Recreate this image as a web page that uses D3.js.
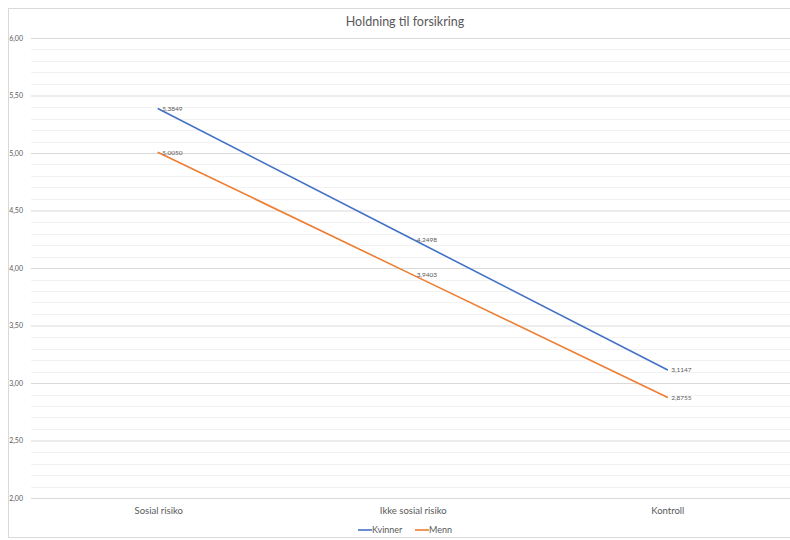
<!DOCTYPE html>
<html>
<head>
<meta charset="utf-8">
<script src="https://cdn.jsdelivr.net/npm/d3@7"></script>
<style>
  html, body { margin: 0; padding: 0; background: #fff; }
  svg { display: block; font-family: Lato, "Open Sans", sans-serif; }
</style>
</head>
<body>
<svg id="chart" width="790" height="540"></svg>
<script>
// Mean attitude toward insurance per condition, by gender
const categories = ["Sosial risiko", "Ikke sosial risiko", "Kontroll"];
const kvinner = [5.3849, 4.2498, 3.1147];
const menn = [5.0050, 3.9403, 2.8755];
const seriesNames = ["Kvinner", "Menn"];
const seriesColors = ["#4472C4", "#ED7D31"];
const yTicks = [2.0, 2.5, 3.0, 3.5, 4.0, 4.5, 5.0, 5.5, 6.0];
const title = "Holdning  til forsikring";

const series = [
  { name: seriesNames[0], color: seriesColors[0], values: kvinner },
  { name: seriesNames[1], color: seriesColors[1], values: menn }
];

const svg = d3.select("#chart");
const plot = { left: 31, right: 794.5, top: 38, bottom: 498 };

// chart frame
svg.append("rect")
  .attr("x", 8.5).attr("y", 8.5)
  .attr("width", 800).attr("height", 529)
  .attr("fill", "#fff").attr("stroke", "#d9d9d9").attr("stroke-width", 1);

const x = d3.scalePoint().domain(categories)
  .range([plot.left, plot.right]).padding(0.5);
const y = d3.scaleLinear().domain([2, 6]).range([plot.bottom, plot.top]);

const fmt = (v, d) => v.toFixed(d).replace(".", ",");

// minor gridlines every 0.1
const minor = d3.range(20, 61).map(v => v / 10).filter(v => Math.round(v * 10) % 5 !== 0);
svg.append("g").selectAll("line").data(minor).join("line")
  .attr("x1", plot.left).attr("x2", plot.right)
  .attr("y1", d => Math.round(y(d)) + 0.5).attr("y2", d => Math.round(y(d)) + 0.5)
  .attr("stroke", "#f2f2f2").attr("stroke-width", 1.2);

// major gridlines + y axis labels
const yAxis = d3.axisLeft(y).tickValues(yTicks)
  .tickSize(-(plot.right - plot.left)).tickPadding(8)
  .tickFormat(d => fmt(d, 2));
const gy = svg.append("g").attr("transform", `translate(${plot.left},0)`).call(yAxis);
gy.select(".domain").remove();
gy.selectAll(".tick line").attr("stroke", "#d9d9d9").attr("stroke-width", 1.2);
gy.selectAll(".tick text").attr("fill", "#595959").attr("font-size", 7)
  .attr("font-family", "Lato, sans-serif");

// category axis labels
const xAxis = d3.axisBottom(x).tickSize(0).tickPadding(9);
const gx = svg.append("g").attr("transform", `translate(0,${plot.bottom})`).call(xAxis);
gx.select(".domain").remove();
gx.selectAll(".tick text").attr("fill", "#595959").attr("font-size", 9.5)
  .attr("font-family", "Lato, sans-serif");

// series lines
const line = d3.line().x((d, i) => x(categories[i])).y(d => y(d));
svg.append("g").selectAll("path").data(series).join("path")
  .attr("d", s => line(s.values))
  .attr("fill", "none").attr("stroke", s => s.color).attr("stroke-width", 1.6)
  .attr("stroke-linecap", "round");

// value labels to the right of each point
series.forEach(s => {
  svg.append("g").selectAll("text").data(s.values).join("text")
    .attr("x", (d, i) => x(categories[i]) + 4)
    .attr("y", d => y(d))
    .attr("dy", "0.35em")
    .attr("font-size", 6.5).attr("fill", "#595959")
    .text(d => fmt(d, 4));
});

// title
svg.append("text")
  .attr("x", 405).attr("y", 26).attr("text-anchor", "middle")
  .attr("font-size", 12.5).attr("fill", "#595959")
  .text(title);

// legend
const legendItems = [
  { name: series[0].name, color: series[0].color, x: 358 },
  { name: series[1].name, color: series[1].color, x: 415 }
];
const lg = svg.append("g");
legendItems.forEach(it => {
  lg.append("line").attr("x1", it.x).attr("x2", it.x + 14)
    .attr("y1", 530).attr("y2", 530)
    .attr("stroke", it.color).attr("stroke-width", 1.6);
  lg.append("text").attr("x", it.x + 14).attr("y", 530).attr("dy", "0.35em")
    .attr("font-size", 9).attr("fill", "#595959").text(it.name);
});
</script>
</body>
</html>
